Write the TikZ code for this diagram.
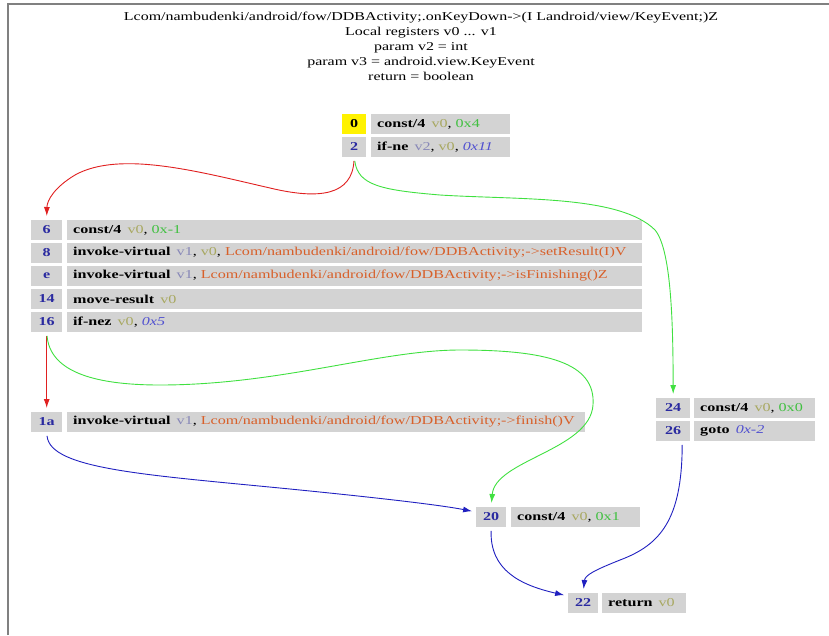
\documentclass[tikz,border=0pt]{standalone}
\usepackage{fontspec}
\setmainfont{Liberation Serif}[FakeStretch=1.33]
\usetikzlibrary{arrows.meta}
\definecolor{cellgray}{HTML}{D3D3D3}
\definecolor{idxblue}{HTML}{2A2AA0}
\definecolor{regA}{HTML}{A8A860}
\definecolor{regB}{HTML}{8888B8}
\definecolor{cstgreen}{HTML}{40C040}
\definecolor{offblue}{HTML}{5050D0}
\definecolor{methorange}{HTML}{D8602A}
\definecolor{framegray}{HTML}{808080}
\definecolor{ered}{HTML}{E02020}
\definecolor{egreen}{HTML}{40E040}
\definecolor{eblue}{HTML}{2020C0}
\newcommand\rA[1]{\textcolor{regA}{#1}}
\newcommand\rB[1]{\textcolor{regB}{#1}}
\newcommand\cst[1]{\textcolor{cstgreen}{#1}}
\newcommand\offs[1]{\textcolor{offblue}{\itshape #1}}
\newcommand\meth[1]{\textcolor{methorange}{#1}}
\newcommand\opc[1]{\textbf{#1}\hspace{0.5em}}
\begin{document}
\begin{tikzpicture}[x=1pt,y=-1pt,
  txt/.style={font=\fontsize{12}{15}\selectfont},
  itxt/.style={font=\fontsize{12.1}{15}\selectfont},
  idx/.style={fill=cellgray, font=\fontsize{12.1}{15}\selectfont\bfseries, text=idxblue, anchor=north west, minimum height=19.5pt, inner sep=0pt},
  ins/.style={itxt, fill=cellgray, anchor=north west, minimum height=19.5pt, inner xsep=6pt, inner ysep=0pt, align=left},
  edge/.style={-{Latex[length=9pt,width=6pt]}, line width=0.9pt, shorten >=4pt, shorten <=4pt}]
\useasboundingbox (0,0) rectangle (829,635);
\draw[framegray, line width=1.5pt] (8,635) -- (8,4) -- (829,4);
\node[txt, anchor=north, align=center] (title) at (421,9)
 {Lcom/nambudenki/android/fow/DDBActivity;.onKeyDown->(I Landroid/view/KeyEvent;)Z\\
  Local registers v0 ... v1\\ param v2 = int\\ param v3 = android.view.KeyEvent\\ return = boolean};
% block 0
\node[idx, minimum width=24pt, fill=yellow, text=black] (i0) at (342,114) {0};
\node[ins, text width=127pt] (n0) at (371,114) {\mbox{\opc{const/4}\rA{v0}, \cst{0x4}}};
\node[idx, minimum width=24pt] (i2) at (342,137) {2};
\node[ins, text width=127pt] (n2) at (371,137) {\mbox{\opc{if-ne}\rB{v2}, \rA{v0}, \offs{0x11}}};
% block 6
\node[idx, minimum width=31pt] (i6) at (31,220) {6};
\node[ins, text width=563pt] (n6) at (67,220) {\mbox{\opc{const/4}\rA{v0}, \cst{0x-1}}};
\node[idx, minimum width=31pt] (i8) at (31,243) {8};
\node[ins, text width=563pt] (n8) at (67,243) {\mbox{\opc{invoke-virtual}\rB{v1}, \rA{v0}, \meth{Lcom/nambudenki/android/fow/DDBActivity;->setResult(I)V}}};
\node[idx, minimum width=31pt] (ie) at (31,266) {e};
\node[ins, text width=563pt] (ne) at (67,266) {\mbox{\opc{invoke-virtual}\rB{v1}, \meth{Lcom/nambudenki/android/fow/DDBActivity;->isFinishing()Z}}};
\node[idx, minimum width=31pt] (i14) at (31,289) {14};
\node[ins, text width=563pt] (n14) at (67,289) {\mbox{\opc{move-result}\rA{v0}}};
\node[idx, minimum width=31pt] (i16) at (31,312) {16};
\node[ins, text width=563pt] (n16) at (67,312) {\mbox{\opc{if-nez}\rA{v0}, \offs{0x5}}};
% block 1a
\node[idx, minimum width=31pt] (i1a) at (31,412) {1a};
\node[ins, text width=506pt] (n1a) at (67,412) {\mbox{\opc{invoke-virtual}\rB{v1}, \meth{Lcom/nambudenki/android/fow/DDBActivity;->finish()V}}};
% block 24
\node[idx, minimum width=34pt] (i24) at (656,398) {24};
\node[ins, text width=109pt] (n24) at (694,398) {\mbox{\opc{const/4}\rA{v0}, \cst{0x0}}};
\node[idx, minimum width=34pt] (i26) at (656,421) {26};
\node[ins, text width=109pt] (n26) at (694,421) {\mbox{\opc{goto}\offs{0x-2}}};
% block 20
\node[idx, minimum width=30pt] (i20) at (476,507) {20};
\node[ins, text width=117pt] (n20) at (511,507) {\mbox{\opc{const/4}\rA{v0}, \cst{0x1}}};
% block 22
\node[idx, minimum width=30pt] (i22) at (568,593) {22};
\node[ins, text width=72pt] (n22) at (602,593) {\mbox{\opc{return}\rA{v0}}};
% edges
\draw[edge, ered] (i2.south) .. controls (352,195) and (320,200) .. (270,188)
  .. controls (200,172) and (120,150) .. (75,175)
  .. controls (55,187) and (47,200) .. (i6.north);
\draw[edge, egreen] (i2.south) .. controls (358,185) and (380,190) .. (440,195)
  .. controls (520,200) and (620,195) .. (655,230)
  .. controls (672,250) and (673,330) .. (i24.north);
\draw[edge, ered] (i16.south) -- (i1a.north);
\draw[edge, egreen] (i16.south) .. controls (50,370) and (90,385) .. (160,385)
  .. controls (280,385) and (380,350) .. (460,350)
  .. controls (545,350) and (596,362) .. (593,405)
  .. controls (590,450) and (495,460) .. (i20.north);
\draw[edge, eblue] (i1a.south) .. controls (50,470) and (150,475) .. (300,490)
  .. controls (380,498) and (440,505) .. ([yshift=5pt]i20.west);
\draw[edge, eblue] (i20.south) .. controls (490,570) and (520,585) .. ([yshift=-3pt]i22.north west);
\draw[edge, eblue] ([xshift=9pt]i26.south) .. controls (682,520) and (660,545) .. (620,560)
  .. controls (595,570) and (585,575) .. (i22.north);
\end{tikzpicture}
\end{document}
